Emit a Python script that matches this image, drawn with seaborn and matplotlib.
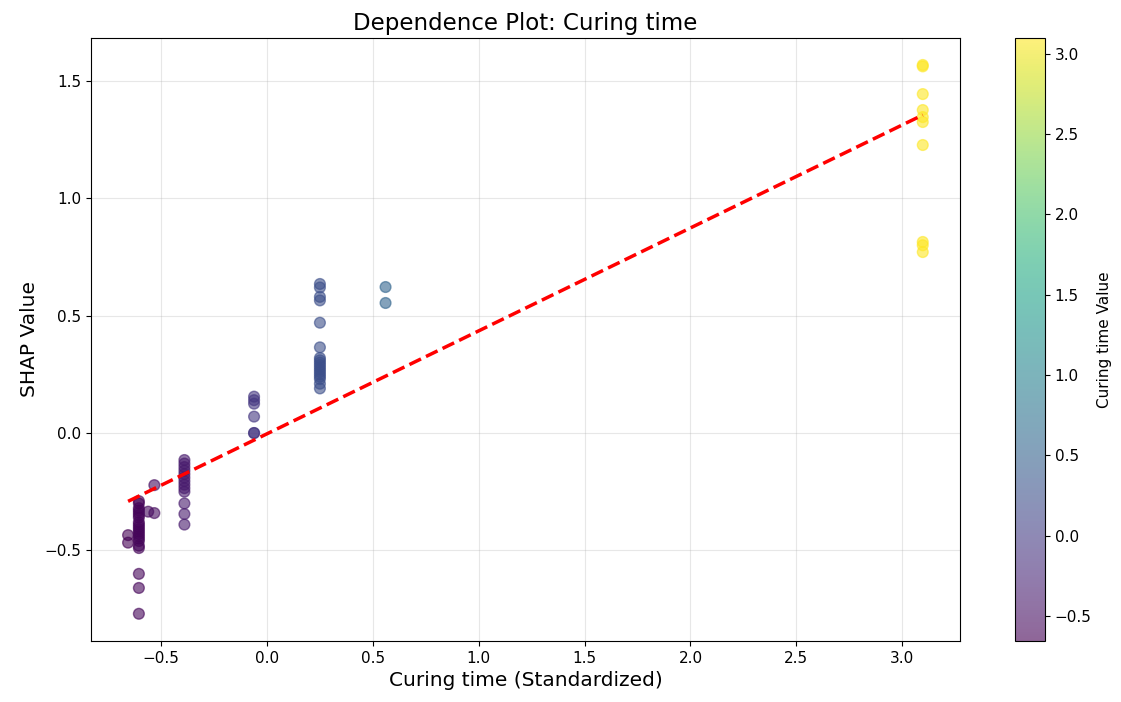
import numpy as np
import pandas as pd
import matplotlib
matplotlib.use("Agg")
import matplotlib.pyplot as plt
import seaborn as sns

# Standardized curing-time level of each sample group
x_levels = [-0.656, -0.605, -0.561, -0.532, -0.390, -0.061, 0.250, 0.560, 3.097]

# SHAP values observed at each level
shap_at_level = [
    [-0.435, -0.467],
    [-0.29, -0.30, -0.32, -0.33, -0.34, -0.35, -0.36, -0.38, -0.39, -0.40,
     -0.41, -0.42, -0.43, -0.44, -0.45, -0.46, -0.48, -0.49, -0.60, -0.66, -0.77],
    [-0.335],
    [-0.222, -0.341],
    [-0.115, -0.13, -0.145, -0.16, -0.175, -0.19, -0.205, -0.22, -0.235, -0.25,
     -0.30, -0.345, -0.39],
    [0.155, 0.14, 0.125, 0.07, 0.0, 0.0],
    [0.635, 0.62, 0.58, 0.565, 0.47, 0.365, 0.32, 0.31, 0.30, 0.29, 0.28, 0.27,
     0.26, 0.25, 0.24, 0.23, 0.21, 0.19],
    [0.622, 0.554],
    [1.568, 1.562, 1.444, 1.376, 1.346, 1.325, 1.227, 0.814, 0.80, 0.771],
]

feature_name = "Curing time"

xs, ys = [], []
for lv, vals in zip(x_levels, shap_at_level):
    xs.extend([lv] * len(vals))
    ys.extend(vals)
df = pd.DataFrame({"feature": xs, "shap": ys})

plt.rcParams["font.family"] = ["DejaVu Sans"]

fig = plt.figure(figsize=(11.21, 7.02), dpi=100)
ax = fig.add_axes([0.0812, 0.0869, 0.7752, 0.859])
cax = fig.add_axes([0.9054, 0.0869, 0.0268, 0.859])

vmin, vmax = df["feature"].min(), df["feature"].max()
sns.scatterplot(data=df, x="feature", y="shap", hue="feature", palette="viridis",
                hue_norm=(vmin, vmax), s=60, alpha=0.6, edgecolor="face",
                linewidth=1.0, legend=False, ax=ax)

# Linear trend through the points
coef = np.polyfit(df["feature"], df["shap"], 1)
xline = np.array([vmin, vmax])
ax.plot(xline, np.polyval(coef, xline), "r--", linewidth=2.5)

ax.set_xlim(-0.831, 3.273)
ax.set_ylim(-0.886, 1.683)
ax.grid(True, alpha=0.3)
ax.set_axisbelow(True)
ax.set_title(f"Dependence Plot: {feature_name}", fontsize=16.5)
ax.set_xlabel(f"{feature_name} (Standardized)", fontsize=14.5)
ax.set_ylabel("SHAP Value", fontsize=14.5)
ax.tick_params(labelsize=11)

sm = plt.cm.ScalarMappable(cmap="viridis", norm=plt.Normalize(vmin, vmax))
cbar = fig.colorbar(sm, cax=cax, alpha=0.6)
cbar.set_label(f"{feature_name} Value", fontsize=11)
cbar.ax.tick_params(labelsize=11)

fig.savefig("out.png", dpi=100)
